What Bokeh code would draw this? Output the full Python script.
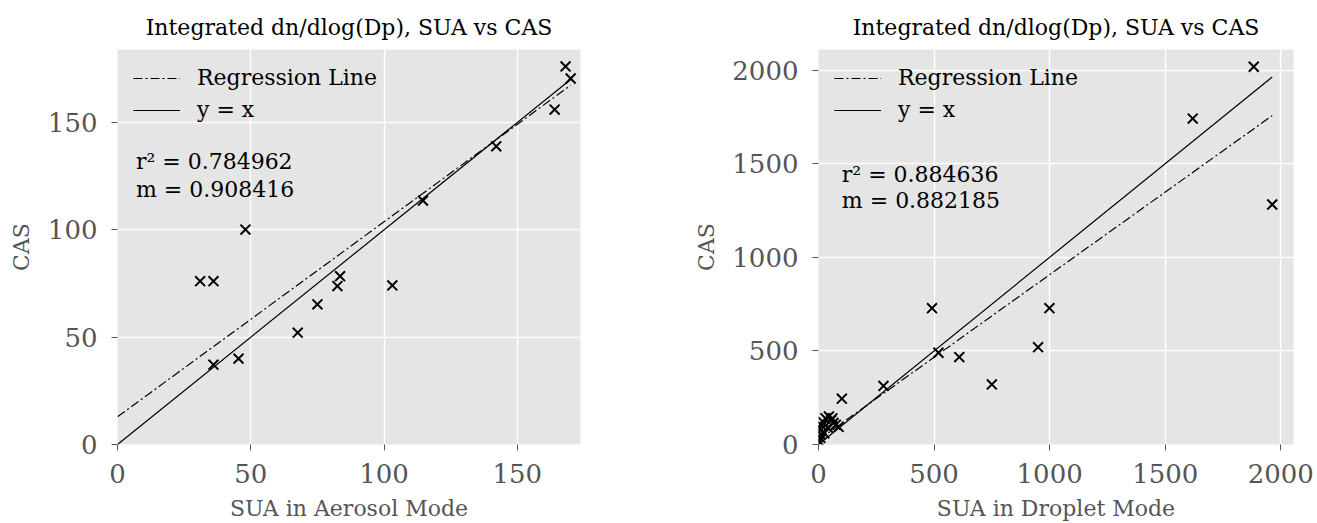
from bokeh.plotting import figure
from bokeh.layouts import row
from bokeh.models import FixedTicker, Range1d, Label
from bokeh.embed import file_html
from bokeh.resources import INLINE

# ---------------- data ----------------
title_text = "Integrated dn/dlog(Dp), SUA vs CAS"

aer_sua = [31.0, 36.0, 48.0, 36.0, 45.4, 67.6, 75.0, 82.5, 83.5, 103.1, 114.6, 142.1, 164.0, 168.1, 170.0]
aer_cas = [76.1, 76.1, 100.1, 37.2, 40.0, 52.1, 65.3, 73.8, 78.4, 74.1, 113.6, 138.9, 156.0, 176.1, 170.5]
aer_r2 = 0.784962
aer_m = 0.908416
aer_b = 12.9
aer_ticks = [0, 50, 100, 150]

drop_sua = [1883, 1619, 1963, 491, 999, 519, 609, 750, 950, 281, 101, 87,
            5, 8, 10, 12, 15, 20, 30, 45, 55, 65, 75, 40, 25, 60]
drop_cas = [2018, 1741, 1282, 728, 728, 490, 467, 321, 520, 313, 245, 94,
            15, 35, 55, 80, 100, 120, 140, 150, 130, 115, 105, 90, 60, 140]
drop_r2 = 0.884636
drop_m = 0.882185
drop_b = 25.0
drop_ticks = [0, 500, 1000, 1500, 2000]

FONT = "DejaVu Serif"
BG = "#E5E5E5"
GRAY = "#555555"


def make_panel(xs, ys, r2, m, b, ticks, xlabel, xmax, ymax, width, left, right,
               txt_x, txt_y1, txt_y2, ylab_standoff):
    p = figure(width=width, height=523, output_backend="svg", toolbar_location=None,
               x_range=Range1d(0, xmax), y_range=Range1d(0, ymax),
               min_border_left=left, min_border_right=right,
               min_border_top=49, min_border_bottom=77,
               background_fill_color=BG, border_fill_color="white",
               outline_line_color=None)
    p.title.text = title_text
    p.title.align = "center"
    p.title.text_font = FONT
    p.title.text_font_size = "22px"
    p.title.text_font_style = "normal"
    p.title.text_color = "black"
    p.title.standoff = 19

    for ax in (p.xaxis, p.yaxis):
        ax.ticker = FixedTicker(ticks=ticks)
        ax.axis_line_color = None
        ax.major_tick_line_color = GRAY
        ax.major_tick_out = 6
        ax.major_tick_in = 0
        ax.minor_tick_line_color = None
        ax.major_label_text_font = FONT
        ax.major_label_text_font_size = "26px"
        ax.major_label_text_color = GRAY
        ax.axis_label_text_font = FONT
        ax.axis_label_text_font_size = "22px"
        ax.axis_label_text_font_style = "normal"
        ax.axis_label_text_color = GRAY
    p.xaxis.major_label_standoff = 13
    p.xaxis.axis_label_standoff = 10
    p.yaxis.major_label_standoff = 14
    p.yaxis.axis_label_standoff = ylab_standoff
    p.xaxis.axis_label = xlabel
    p.yaxis.axis_label = "CAS"

    p.grid.grid_line_color = "white"
    p.grid.grid_line_width = 1.5

    xend = max(xs)
    p.line([0, xend], [b, m * xend + b], line_color="black", line_width=1.2,
           line_dash="9 3 2 3", legend_label="Regression Line")
    p.line([0, xend], [0, xend], line_color="black", line_width=1.2,
           legend_label="y = x")
    p.scatter(xs, ys, marker="x", size=14, line_color="black", line_width=2)

    lg = p.legend[0]
    lg.location = "top_left"
    lg.margin = 0
    lg.padding = 16
    lg.spacing = 7
    lg.glyph_width = 47
    lg.glyph_height = 20
    lg.label_height = 20
    lg.label_standoff = 17
    lg.label_text_font = FONT
    lg.label_text_font_size = "22px"
    lg.label_text_color = "black"
    lg.background_fill_alpha = 0
    lg.border_line_alpha = 0

    for yy, t in ((txt_y1, "r² = %.6f" % r2), (txt_y2, "m = %.6f" % m)):
        p.add_layout(Label(x=txt_x, y=yy, text=t, text_font=FONT,
                           text_font_size="22px", text_baseline="middle",
                           text_color="black"))
    return p


p1 = make_panel(aer_sua, aer_cas, aer_r2, aer_m, aer_b, aer_ticks,
                "SUA in Aerosol Mode", 173.7, 184, 640, 117, 60, 6.9, 132, 119, 11)
p2 = make_panel(drop_sua, drop_cas, drop_r2, drop_m, drop_b, drop_ticks,
                "SUA in Droplet Mode", 2055, 2110, 677, 178, 24, 101, 1444, 1302, 10)

layout = row(p1, p2)
open("out.html", "w").write(file_html(layout, INLINE))
